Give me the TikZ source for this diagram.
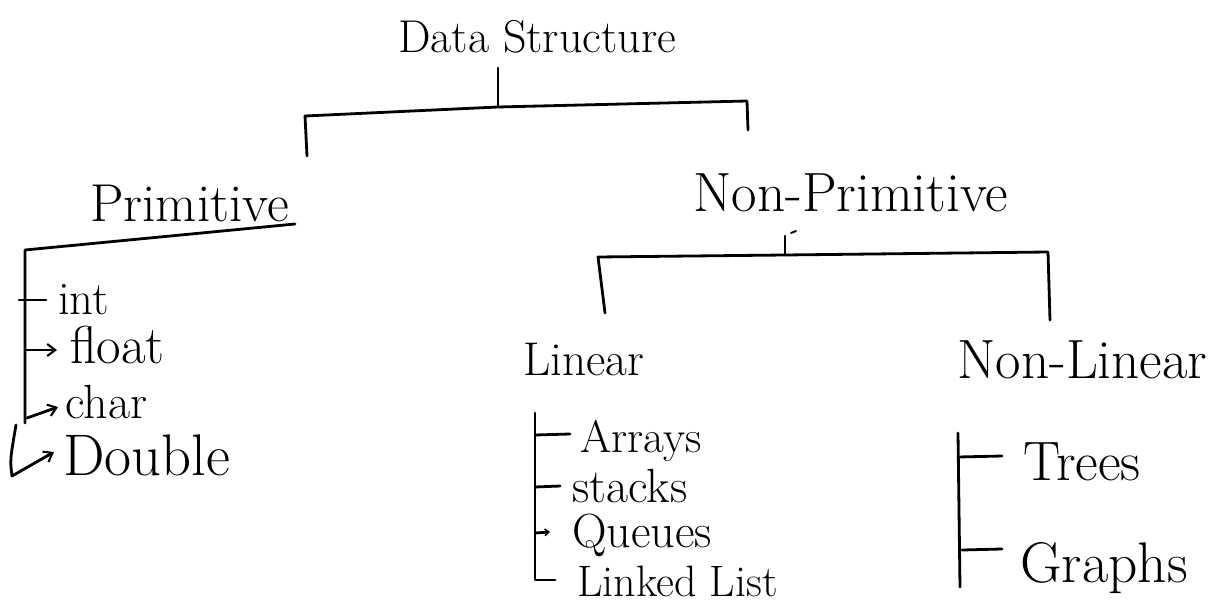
\documentclass[tikz,border=0pt]{standalone}
\usetikzlibrary{arrows.meta}
\tikzset{
  ln/.style={line width=2.1pt, line cap=round, line join=round, black},
  arr/.style={ln, -{Straight Barb[length=6pt,width=9pt,line width=1.6pt]}},
  txt/.style={anchor=base west, inner sep=0pt, text=black},
}
\newcommand{\fs}[1]{\fontsize{#1}{#1}\selectfont}
\begin{document}
\begin{tikzpicture}[x=0.75pt,y=-0.75pt]
\useasboundingbox[fill=white] (0,0) rectangle (1210,606);

% titles
\node[txt, font=\fs{34.5}] (ds) at (398,53) {Data Structure};
\node[txt, font=\fs{40}] (prim) at (90,222) {Primitive};
\node[txt, font=\fs{41.5}] (np) at (693,212) {Non-Primitive};
\node[txt, font=\fs{35.5}] (lin) at (523,375) {Linear};
\node[txt, font=\fs{41.5}] (nl) at (957,378) {Non-Linear};

% primitive items
\node[txt, font=\fs{35}] (int) at (58,314) {int};
\node[txt, font=\fs{40}] (flt) at (70,363) {float};
\node[txt, font=\fs{36}] (chr) at (65,418) {char};
\node[txt, font=\fs{44}] (dbl) at (63,475) {Double};

% linear items
\node[txt, font=\fs{34}] (arr) at (580,452) {Arrays};
\node[txt, font=\fs{36}] (stk) at (572,502) {stacks};
\node[txt, font=\fs{36}] (que) at (572,547) {Queues};
\node[txt, font=\fs{33}] (ll) at (577,596) {Linked List};

% non-linear items
\node[txt, font=\fs{41.7}] (tr) at (1023,480) {Trees};
\node[txt, font=\fs{43}] (gr) at (1020,582) {Graphs};

% coordinates of the brackets
\coordinate (j1) at (498,107);
\coordinate (b1l) at (305,116);
\coordinate (b1r) at (747,101);
\coordinate (pl) at (307,156);
\coordinate (npl) at (748,130);

\coordinate (j2) at (785,255);
\coordinate (b2l) at (598,257);
\coordinate (b2r) at (1048,252);
\coordinate (linl) at (605,313);
\coordinate (nll) at (1050,320);

% top bracket
\draw[ln] (ds.south -| j1) ++(0,14) -- (j1);
\draw[ln] (pl) -- (b1l) -- (j1) -- (b1r) -- (npl);

% non-primitive bracket
\draw[ln] (785,236) -- (j2);
\draw[ln, line width=1.4pt] (791,233) -- (796,231);
\draw[ln] (linl) -- (b2l) -- (j2) -- (b2r) -- (nll);

% primitive list
\coordinate (pu1) at (295,224);
\coordinate (pu2) at (25,250);
\coordinate (pv) at (25,423);
\draw[ln] (pu1) -- (pu2) -- (pv);
\draw[ln] (19,300) -- (46,300);
\draw[arr] (26,350) -- (57,350);
\draw[arr] (27,418) -- (58,407);
\draw[arr] (16,425) .. controls (10,460) .. (12,476) -- (54,452);

% linear list
\draw[ln] (535,413) -- (535,580) -- (555,580);
\draw[ln] (535,435) -- (570,434);
\draw[ln] (535,487) -- (560,486);
\draw[arr, -{Straight Barb[length=3pt,width=5pt,line width=1.2pt]}] (535,533) -- (550,532);

% non-linear list
\draw[ln] (958,433) -- (960,587);
\draw[ln] (958,457) -- (1002,456);
\draw[ln] (962,550) -- (1002,549);
\end{tikzpicture}
\end{document}
